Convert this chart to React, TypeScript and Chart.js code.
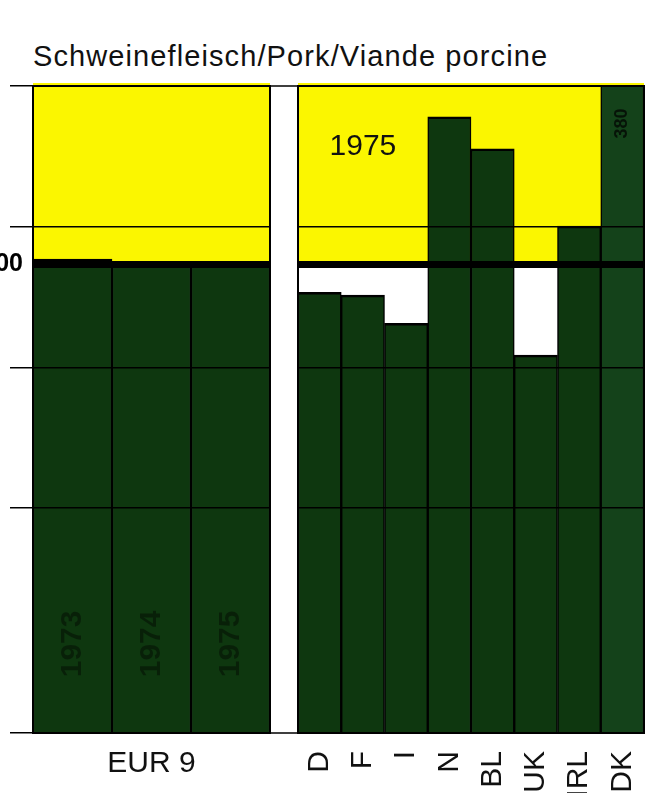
import React, { useEffect, useRef } from 'react';
import { Chart, registerables } from 'chart.js';

Chart.register(...registerables);

// ---------- data ----------
const TITLE = 'Schweinefleisch/Pork/Viande porcine';
const EUR_LABEL = 'EUR 9';
const EUR_YEARS = ['1973', '1974', '1975'];
const EUR_VALUES = [101.1, 100, 100];
const COUNTRIES = ['D', 'F', 'I', 'N', 'BL', 'UK', 'IRL', 'DK'];
const COUNTRY_VALUES = [94.0, 93.4, 87.4, 131.4, 124.6, 80.6, 108.1, 380];
const PANEL_YEAR = '1975';
const PANEL_YEAR_AT = { category: 'F', value: 125 };
const REFERENCE = 100;
const Y_MIN = 0;
const Y_MAX = 138;
const GRID_VALUES = [0, 48, 78, 108, 138];
const OVER_LABEL_AT = 130;
const YEAR_LABEL_AT = 19;

// ---------- styles ----------
const FONT = '"Liberation Sans", Arial, Helvetica, sans-serif';
const GREEN = '#0e370f';
const GREEN_DK = '#14421a';
const YELLOW = '#fbf600';

const isRef = (c: any) => c.tick && c.tick.value === REFERENCE;

function setYTicks(scale: any) {
  scale.ticks = [...GRID_VALUES, REFERENCE].sort((a, b) => a - b).map((v) => ({ value: v }));
}

const backgroundPlugin = {
  id: 'panelBackground',
  beforeDatasetsDraw(chart: any) {
    const { ctx, chartArea: a, scales } = chart;
    const yRef = scales.y.getPixelForValue(REFERENCE);
    ctx.save();
    ctx.fillStyle = '#ffffff';
    ctx.fillRect(a.left, a.top, a.right - a.left, a.bottom - a.top);
    ctx.fillStyle = YELLOW;
    ctx.fillRect(a.left, a.top - 3, a.right - a.left, yRef - a.top + 3);
    ctx.restore();
  },
};

const outlinePlugin = {
  id: 'panelOutline',
  afterDraw(chart: any, _args: any, opts: any) {
    const { ctx, chartArea: a, scales } = chart;
    ctx.save();
    ctx.strokeStyle = '#000';
    ctx.lineWidth = 2;
    ctx.strokeRect(a.left, a.top, a.right - a.left, a.bottom - a.top);
    const yTop = scales.y.getPixelForValue(Y_MAX);
    const yBot = scales.y.getPixelForValue(Y_MIN);
    ctx.lineWidth = 1.5;
    ctx.beginPath();
    if (opts.extend === 'right') {
      ctx.moveTo(a.right, yTop); ctx.lineTo(chart.width, yTop);
      ctx.moveTo(a.right, yBot); ctx.lineTo(chart.width, yBot);
    } else if (opts.extend === 'left') {
      ctx.moveTo(0, yTop); ctx.lineTo(a.left, yTop);
      ctx.moveTo(0, yBot); ctx.lineTo(a.left, yBot);
    }
    ctx.stroke();
    ctx.restore();
  },
};

const barTextPlugin = {
  id: 'barText',
  afterDatasetsDraw(chart: any, _args: any, opts: any) {
    const { ctx, scales } = chart;
    const { x, y } = scales;
    ctx.save();
    if (opts.years) {
      ctx.font = `bold 30px ${FONT}`;
      ctx.fillStyle = 'rgba(0,0,0,0.42)';
      ctx.textAlign = 'center';
      ctx.textBaseline = 'middle';
      opts.years.forEach((t: string, i: number) => {
        ctx.save();
        ctx.translate(x.getPixelForValue(i), y.getPixelForValue(YEAR_LABEL_AT));
        ctx.rotate(-Math.PI / 2);
        ctx.fillText(t, 0, 0);
        ctx.restore();
      });
    }
    if (opts.overRange) {
      const data = chart.data.datasets[0].data as number[];
      ctx.font = `bold 18px ${FONT}`;
      ctx.fillStyle = 'rgba(0,0,0,0.7)';
      ctx.textAlign = 'center';
      ctx.textBaseline = 'middle';
      data.forEach((v, i) => {
        if (v > Y_MAX) {
          ctx.save();
          ctx.translate(x.getPixelForValue(i), y.getPixelForValue(OVER_LABEL_AT));
          ctx.rotate(-Math.PI / 2);
          ctx.fillText(String(v), 0, 0);
          ctx.restore();
        }
      });
    }
    if (opts.panelYear) {
      ctx.font = `30px ${FONT}`;
      ctx.fillStyle = '#111';
      ctx.textAlign = 'center';
      ctx.textBaseline = 'middle';
      const idx = COUNTRIES.indexOf(PANEL_YEAR_AT.category);
      ctx.fillText(opts.panelYear, x.getPixelForValue(idx), y.getPixelForValue(PANEL_YEAR_AT.value));
    }
    ctx.restore();
  },
};

const gridOpts = (withTicks: boolean) => ({
  z: 1,
  color: '#000',
  lineWidth: (c: any) => (isRef(c) ? 7 : 1.5),
  drawTicks: withTicks,
  tickLength: 23,
  tickWidth: 1.5,
  tickColor: (c: any) => (isRef(c) ? 'rgba(0,0,0,0)' : '#000'),
});

const barStyle = {
  borderColor: '#000',
  borderWidth: { top: 2.5, left: 1.5, right: 1.5, bottom: 0 },
  borderSkipped: false as any,
  categoryPercentage: 1,
  barPercentage: 1,
  clip: 0,
};

const fixX = (s: any) => {
  s.height = 60;
  s.paddingLeft = 0;
  s.paddingRight = 0;
};

export default function App() {
  const leftRef = useRef<HTMLCanvasElement>(null);
  const rightRef = useRef<HTMLCanvasElement>(null);

  useEffect(() => {
    Chart.defaults.font.family = FONT;

    const left = new Chart(leftRef.current as HTMLCanvasElement, {
      type: 'bar',
      data: {
        labels: EUR_YEARS,
        datasets: [{ data: EUR_VALUES, backgroundColor: GREEN, ...barStyle } as any],
      },
      options: {
        animation: false,
        responsive: false,
        events: [],
        layout: { padding: { top: 6, right: 15, left: 0, bottom: 0 } },
        plugins: {
          legend: { display: false },
          tooltip: { enabled: false },
          panelOutline: { extend: 'right' },
          barText: { years: EUR_YEARS },
        } as any,
        scales: {
          x: {
            grid: { display: false },
            border: { display: false },
            ticks: { display: false },
            title: {
              display: true,
              text: EUR_LABEL,
              color: '#111',
              font: { size: 30, family: FONT },
              padding: { top: 0, bottom: 11 },
            },
            afterFit: fixX,
          },
          y: {
            min: Y_MIN,
            max: Y_MAX,
            afterBuildTicks: setYTicks,
            afterFit: (s: any) => { s.width = 53; },
            grid: gridOpts(true) as any,
            border: { display: false },
            ticks: {
              padding: -13,
              color: '#000',
              font: { size: 25, weight: 'bold', family: FONT },
              autoSkip: false,
              callback: (v: any) => (Number(v) === REFERENCE ? String(REFERENCE) : ''),
            },
          },
        },
      },
      plugins: [backgroundPlugin, outlinePlugin, barTextPlugin],
    });

    const right = new Chart(rightRef.current as HTMLCanvasElement, {
      type: 'bar',
      data: {
        labels: COUNTRIES,
        datasets: [{
          data: COUNTRY_VALUES,
          backgroundColor: COUNTRIES.map((c) => (c === 'DK' ? GREEN_DK : GREEN)),
          ...barStyle,
        } as any],
      },
      options: {
        animation: false,
        responsive: false,
        events: [],
        layout: { padding: { top: 6, right: 9, left: 13, bottom: 0 } },
        plugins: {
          legend: { display: false },
          tooltip: { enabled: false },
          panelOutline: { extend: 'left' },
          barText: { overRange: true, panelYear: PANEL_YEAR },
        } as any,
        scales: {
          x: {
            grid: { display: false },
            border: { display: false },
            ticks: {
              color: '#111',
              font: { size: 30, family: FONT },
              minRotation: 90,
              maxRotation: 90,
              autoSkip: false,
              padding: 10,
            },
            afterFit: fixX,
          },
          y: {
            min: Y_MIN,
            max: Y_MAX,
            afterBuildTicks: setYTicks,
            afterFit: (s: any) => { s.width = 0; },
            grid: gridOpts(false) as any,
            border: { display: false },
            ticks: { display: false },
          },
        },
      },
      plugins: [backgroundPlugin, outlinePlugin, barTextPlugin],
    });

    return () => {
      left.destroy();
      right.destroy();
    };
  }, []);

  return (
    <div style={{ position: 'absolute', left: 0, top: 0, width: 653, height: 793, overflow: 'hidden', background: '#fff' }}>
      <div
        style={{
          position: 'absolute',
          left: 33,
          top: 42,
          fontFamily: FONT,
          fontSize: 29,
          lineHeight: '29px',
          letterSpacing: '1.1px',
          color: '#111',
          whiteSpace: 'nowrap',
        }}
      >
        {TITLE}
      </div>
      <canvas ref={leftRef} width={305} height={713} style={{ position: 'absolute', left: -20, top: 80, width: 305, height: 713 }} />
      <canvas ref={rightRef} width={368} height={713} style={{ position: 'absolute', left: 285, top: 80, width: 368, height: 713 }} />
    </div>
  );
}
